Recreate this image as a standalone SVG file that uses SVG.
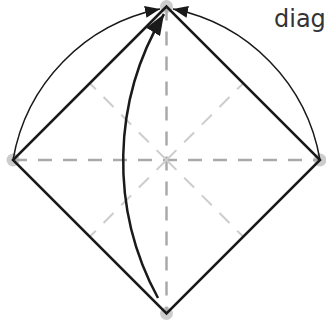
<svg xmlns="http://www.w3.org/2000/svg" width="326" height="322" viewBox="0 0 326 322">
  <style>
    .axis { stroke: #aaaaaa; stroke-width: 2.5; stroke-dasharray: 14 11; fill: none; }
    .diag { stroke: #cccccc; stroke-width: 2; stroke-dasharray: 14 11; fill: none; }
    .pt { fill: #cccccc; }
    .edge { stroke: #1a1a1a; stroke-width: 2.5; fill: none; }
    .arc { stroke: #1a1a1a; stroke-width: 1.5; fill: none; }
    .bold { stroke: #1a1a1a; stroke-width: 2.5; fill: none; }
    .label { font-family: "DejaVu Sans", Verdana, sans-serif; font-size: 24px; fill: #333333; }
  </style>
  <defs>
    <marker id="ah" markerUnits="userSpaceOnUse" markerWidth="16" markerHeight="12" refX="15" refY="6" orient="auto">
      <path d="M0,0 L15,6 L0,12 Z" fill="#1a1a1a"/>
    </marker>
    <marker id="ahb" markerUnits="userSpaceOnUse" markerWidth="22" markerHeight="16" refX="21" refY="8" orient="auto">
      <path d="M0,0 L21,8 L0,16 Z" fill="#1a1a1a"/>
    </marker>
  </defs>
  <g id="points">
    <circle id="top" class="pt" cx="166.5" cy="6.5" r="6.5"/>
    <circle id="left" class="pt" cx="13" cy="160" r="6.5"/>
    <circle id="right" class="pt" cx="320" cy="160" r="6.5"/>
    <circle id="bottom" class="pt" cx="166.5" cy="313.5" r="6.5"/>
  </g>
  <g id="guides">
    <line class="axis" x1="13" y1="160" x2="320" y2="160"/>
    <line class="axis" x1="166.5" y1="6.5" x2="166.5" y2="313.5"/>
    <line class="diag" x1="166.5" y1="160" x2="89.75" y2="83.25"/>
    <line class="diag" x1="166.5" y1="160" x2="243.25" y2="83.25"/>
    <line class="diag" x1="166.5" y1="160" x2="89.75" y2="236.75"/>
    <line class="diag" x1="166.5" y1="160" x2="243.25" y2="236.75"/>
  </g>
  <g id="connectors">
    <path class="edge" d="M166.5,6.5 L13,160 L166.5,313.5 L320,160 Z"/>
    <path class="arc" d="M13,160 A186,186 0 0 1 160,9" marker-end="url(#ah)"/>
    <path class="arc" d="M320,160 A186,186 0 0 0 173,9" marker-end="url(#ah)"/>
    <path class="bold" d="M158,298 A286,286 0 0 1 164,14" marker-end="url(#ahb)"/>
  </g>
  <g id="label">
    <text class="label" x="274" y="27">diag</text>
  </g>
</svg>
